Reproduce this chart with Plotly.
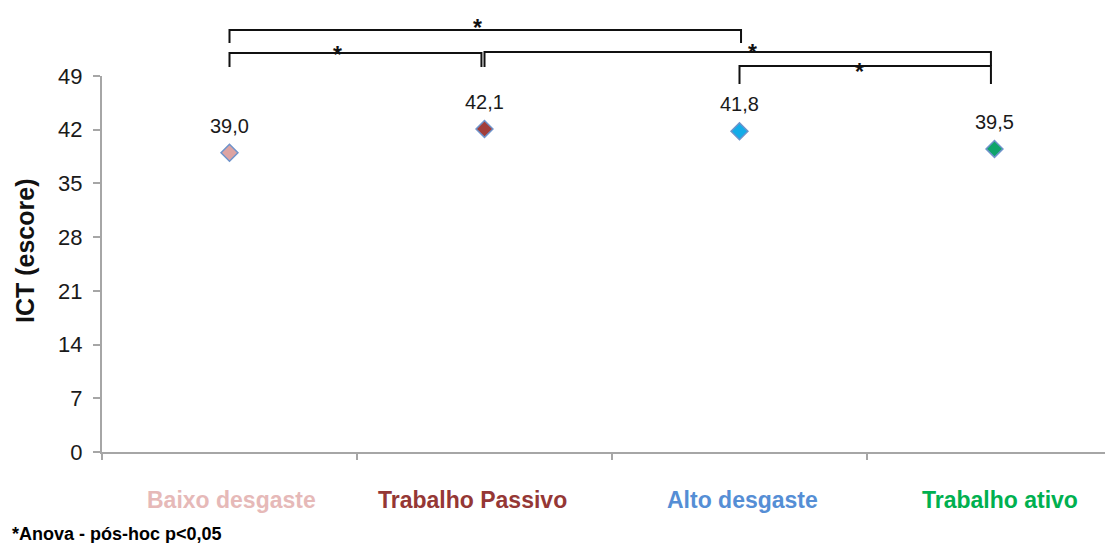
import plotly.graph_objects as go

# ---- data ----
categories = ["Baixo desgaste", "Trabalho Passivo", "Alto desgaste", "Trabalho ativo"]
ict_values = [39.0, 42.1, 41.8, 39.5]
y_ticks = [0, 7, 14, 21, 28, 35, 42, 49]
# significant pairwise comparisons (category index pairs)
comparisons = [(0, 2), (0, 1), (1, 3), (2, 3)]
footnote = "*Anova - pós-hoc p<0,05"

# ---- style ----
marker_fill = ["#DDA3A2", "#A23E3A", "#14ACE8", "#0FA46A"]
label_colors = ["#E6B9B8", "#953735", "#558ED5", "#00B050"]
label_xshift = [2, -12, 3, 5]
OX, OY = 8, 8                      # page offset of the figure inside the window
WIN_W, WIN_H = 1113, 543
W, H = WIN_W - OX, WIN_H - OY
AX_L, AX_T, AX_B = 102, 76, 452   # plot area edges in window pixels
ML, MR, MT = AX_L - OX, 0, AX_T - OY
MB = H - (AX_B - OY)
plot_w = W - ML - MR
plot_h = AX_B - AX_T
cat_w = 255.0

def py(p):  # window pixel row -> paper y
    return (AX_B - p) / plot_h

def px(p):  # window pixel column -> paper x
    return (p - AX_L) / plot_w

# bracket geometry: (x0 offset, x1 offset, top px, left leg bottom px, right leg bottom px, star cat-x, star px)
bracket_style = [
    (0.0, 0.006, 30, 43, 43, 0.973, 28),
    (0.0, -0.012, 53, 67, 67, 0.425, 55),
    (0.0, -0.014, 52, 67, 66, 2.049, 53),
    (0.0, -0.014, 66, 84, 84, 2.47, 72),
]

fig = go.Figure()
fig.add_trace(go.Scatter(
    x=categories, y=ict_values, mode="markers",
    marker=dict(symbol="diamond", size=13, color=marker_fill,
                line=dict(color="#6E93CB", width=1.5)),
    showlegend=False, hoverinfo="skip", cliponaxis=False,
))

annotations = []
# value labels
for i, v in enumerate(ict_values):
    annotations.append(dict(
        x=i, y=v, xref="x", yref="y", text=f"{v:.1f}".replace(".", ","),
        xanchor="center", yanchor="middle",
        showarrow=False, yshift=27, font=dict(family="Liberation Sans, Arial", size=20, color="#1a1a1a")))
# category labels
for i, c in enumerate(categories):
    annotations.append(dict(
        x=i, y=py(500), xref="x", yref="paper", text=f"<b>{c}</b>", xshift=label_xshift[i],
        showarrow=False, xanchor="center", yanchor="middle",
        font=dict(family="Liberation Sans, Arial", size=23, color=label_colors[i])))
# y title
annotations.append(dict(
    x=px(25), y=py(251), xref="paper", yref="paper", text="<b>ICT (escore)</b>",
    textangle=-90, showarrow=False, xanchor="center", yanchor="middle",
    font=dict(family="Liberation Sans, Arial", size=25, color="#111")))
# footnote
annotations.append(dict(
    x=px(10), y=py(534), xref="paper", yref="paper", text=f"<b>{footnote}</b>",
    xanchor="left", yanchor="middle", showarrow=False,
    font=dict(family="Liberation Sans", size=18, color="#000")))

shapes = []
for (a, b), (o0, o1, top, lb, rb, sx, sy) in zip(comparisons, bracket_style):
    x0, x1 = a + o0, b + o1
    shapes.append(dict(
        type="path", xref="x", yref="paper",
        path=f"M {x0} {py(lb)} L {x0} {py(top)} L {x1} {py(top)} L {x1} {py(rb)}",
        line=dict(color="#111", width=2)))
    annotations.append(dict(
        x=sx, y=py(sy), xref="x", yref="paper", text="<b>*</b>", showarrow=False,
        xanchor="center", yanchor="middle",
        font=dict(family="Liberation Sans, Arial", size=23, color="#111")))

fig.update_layout(
    width=W, height=H,
    margin=dict(l=ML, r=MR, t=MT, b=MB),
    paper_bgcolor="white", plot_bgcolor="white",
    showlegend=False,
    annotations=annotations, shapes=shapes,
    xaxis=dict(
        type="category", range=[-0.5, -0.5 + plot_w / cat_w],
        showticklabels=False, tickson="boundaries", ticks="outside", ticklen=6,
        tickcolor="#A6A6A6", tickwidth=1.5, showline=True, linecolor="#A6A6A6", linewidth=2,
        showgrid=False, zeroline=False, fixedrange=True),
    yaxis=dict(
        range=[0, 49], tickvals=y_ticks, ticks="outside", ticklen=7,
        tickcolor="#A6A6A6", tickwidth=1.5, showline=True, linecolor="#A6A6A6", linewidth=2,
        showgrid=False, zeroline=False,
        tickfont=dict(family="Liberation Sans, Arial", size=22, color="#1a1a1a"),
        ticklabelstandoff=6),
)

fig.write_html("out.html")
